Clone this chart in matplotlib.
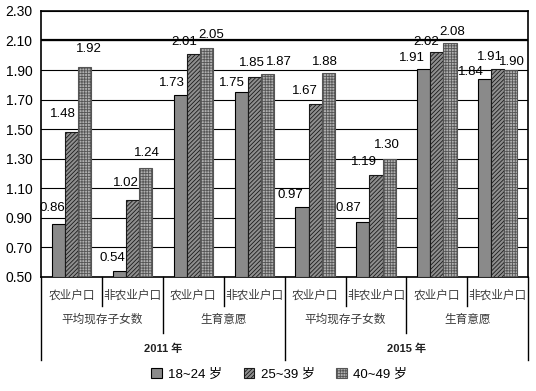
import numpy as np
import matplotlib.pyplot as plt
from matplotlib.lines import Line2D

plt.rcParams['font.family'] = ['Liberation Sans', 'Noto Sans CJK SC', 'DejaVu Sans']
plt.rcParams['hatch.linewidth'] = 0.6

hukou = ['农业户口', '非农业户口'] * 4
measures = ['平均现存子女数', '生育意愿'] * 2
years = ['2011 年', '2015 年']
series = ['18~24 岁', '25~39 岁', '40~49 岁']

age_18_24 = [0.86, 0.54, 1.73, 1.75, 0.97, 0.87, 1.91, 1.84]
age_25_39 = [1.48, 1.02, 2.01, 1.85, 1.67, 1.19, 2.02, 1.91]
age_40_49 = [1.92, 1.24, 2.05, 1.87, 1.88, 1.30, 2.08, 1.90]

# label nudges (pixels) so the value labels sit like the original
nudge_x = [[-6, -7, -8, -9, -12, -15, -12, -14],
           [-9, -6, -9, -2, -10, -12, -11, -8],
           [4, 1, 5, 12, -3, -2, 2, 1]]
nudge_y = [[16, 13, 12, 9, 12, 14, 11, 7],
           [18, 17, 12, 14, 13, 13, 10, 12],
           [18, 15, 13, 12, 11, 14, 11, 8]]

fig = plt.figure(figsize=(5.36, 3.91), dpi=100)
ax = fig.add_axes([0.0765, 0.292, 0.909, 0.68])

x = np.arange(len(hukou))
w = 0.215
styles = [
    dict(color='#8a8a8a', edgecolor='black', hatch=None),
    dict(color='#8f8f8f', edgecolor='#1a1a1a', hatch='////////'),
    dict(color='#b0b0b0', edgecolor='#555555', hatch='++++++'),
]
for i, (vals, st) in enumerate(zip([age_18_24, age_25_39, age_40_49], styles)):
    pos = x + (i - 1) * w
    bars = ax.bar(pos, np.array(vals) - 0.5, w, bottom=0.5, facecolor=st['color'],
                  edgecolor=st['edgecolor'], hatch=st['hatch'], linewidth=0.8,
                  label=series[i], zorder=3)
    for j, (b, v) in enumerate(zip(bars, vals)):
        ax.annotate(f'{v:.2f}', xy=(b.get_x() + b.get_width() / 2, v),
                    xytext=(nudge_x[i][j], nudge_y[i][j]), textcoords='offset pixels',
                    ha='center', va='center', fontsize=9.5, zorder=5)

ax.set_xlim(-0.5, len(hukou) - 0.5)
ax.set_ylim(0.5, 2.3)
ticks = np.arange(0.5, 2.31, 0.2)
ax.set_yticks(ticks)
ax.set_yticklabels([f'{v:.2f}' for v in ticks], fontsize=10)
ax.tick_params(axis='y', length=0, pad=6)
ax.set_xticks([])
ax.grid(axis='y', color='black', linewidth=0.8, zorder=0)
ax.axhline(2.1, color='black', linewidth=1.6, zorder=1)
for s in ax.spines.values():
    s.set_linewidth(1.2)

# hierarchical category axis
trans = ax.get_xaxis_transform()
for i, lab in enumerate(hukou):
    ax.text(i, -0.071, lab, transform=trans, ha='center', va='center', fontsize=8.4,
            color='#3a3a3a')
for j, lab in enumerate(measures):
    ax.text(2 * j + 0.5, -0.162, lab, transform=trans, ha='center', va='center',
            fontsize=8.4, color='#3a3a3a')
for k, lab in enumerate(years):
    ax.text(4 * k + 1.5, -0.271, lab, transform=trans, ha='center', va='center',
            fontsize=8, fontweight='bold', color='#222222')

def sep(xpos, depth):
    ax.add_line(Line2D([xpos, xpos], [0, depth], transform=trans, color='black',
                       linewidth=1.0, clip_on=False))

for xs in [0.5, 2.5, 4.5, 6.5]:
    sep(xs, -0.109)
for xs in [1.5, 5.5]:
    sep(xs, -0.21)
for xs in [-0.5, 3.5, 7.5]:
    sep(xs, -0.312)

fig.legend(loc='center', bbox_to_anchor=(0.521, 0.043), ncol=3, frameon=False,
           fontsize=9.5, handlelength=0.8, handleheight=0.8, columnspacing=1.6,
           handletextpad=0.5)

fig.savefig('out.png', dpi=100)
